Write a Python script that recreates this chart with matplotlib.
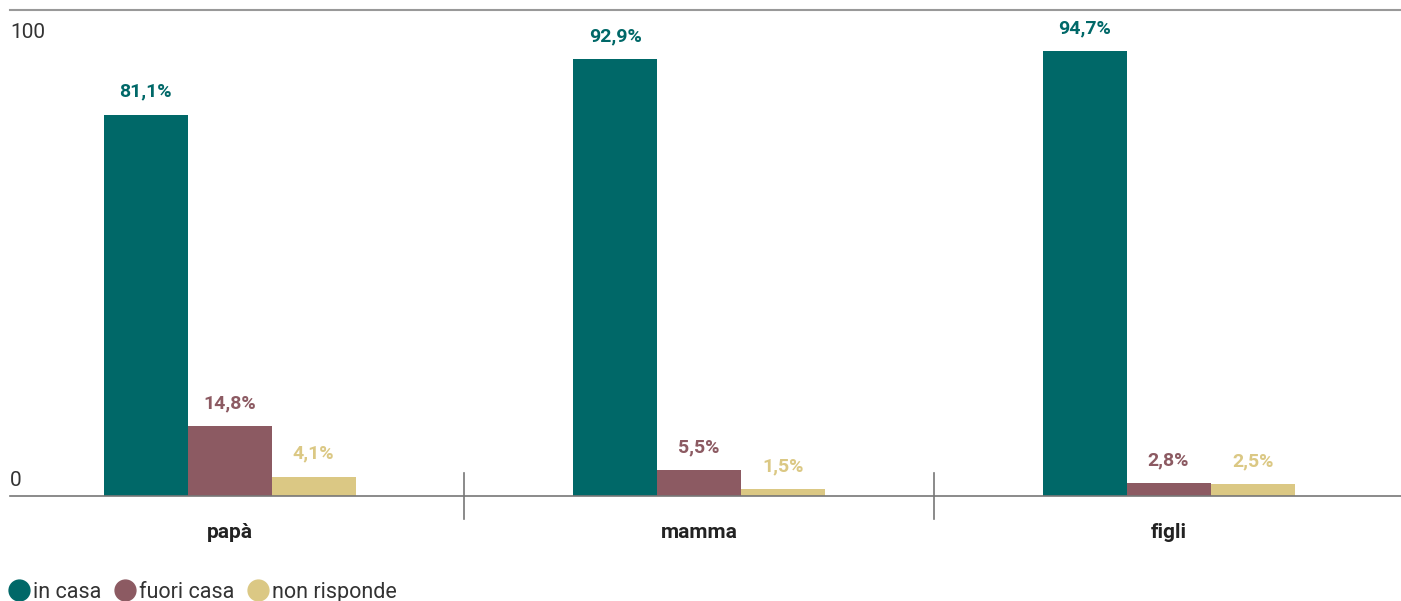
import numpy as np
import matplotlib.pyplot as plt
from matplotlib.lines import Line2D
from matplotlib.transforms import blended_transform_factory

categories = ["papà", "mamma", "figli"]
series = ["in casa", "fuori casa", "non risponde"]
in_casa = [81.1, 92.9, 94.7]
fuori_casa = [14.8, 5.5, 2.8]
non_risponde = [4.1, 1.5, 2.5]
colors = ["#006868", "#8c5a62", "#dbc884"]

plt.rcParams["font.family"] = ["Roboto", "DejaVu Sans"]

fig = plt.figure(figsize=(14.01, 6.01), dpi=100)
ax = fig.add_axes([0.00714, 0.1747, 0.99286, 0.8087])

x = np.arange(len(categories))
w = 0.179
values = [in_casa, fuori_casa, non_risponde]
for i, (vals, col) in enumerate(zip(values, colors)):
    pos = x + (i - 1) * w
    ax.bar(pos, vals, width=w, color=col, zorder=2)
    for p, v in zip(pos, vals):
        ax.annotate(f"{v:.1f}%".replace(".", ","), (p, v), xytext=(0, 10),
                    textcoords="offset points", ha="center", va="bottom",
                    fontsize=14, fontweight="bold", color=col)

ax.set_xlim(-0.468, 2.495)
ax.set_ylim(0, 103.4)
for s in ["left", "right"]:
    ax.spines[s].set_visible(False)
ax.spines["top"].set_color("#999999")
ax.spines["top"].set_linewidth(1.5)
ax.spines["bottom"].set_color("#777777")
ax.spines["bottom"].set_linewidth(1.2)
ax.set_yticks([])
ax.set_xticks([])

# group separators
for sx in [0.5, 1.5]:
    ax.plot([sx, sx], [-4.8, 4.8], color="#777777", lw=1.2, clip_on=False, zorder=3)

# category labels
for xi, c in zip(x, categories):
    ax.text(xi, -5.8, c, ha="center", va="top", fontsize=15, fontweight="bold", color="#222222")

# y labels
tr = blended_transform_factory(ax.transAxes, ax.transData)
ax.text(0.0, 1.2, "0", transform=tr, ha="left", va="bottom", fontsize=15, color="#333333")
ax.text(0.0, 96.5, "100", transform=tr, ha="left", va="bottom", fontsize=15, color="#333333")

handles = [Line2D([], [], marker="o", ls="", markersize=15, color=c) for c in colors]
fig.legend(handles, series, loc="lower left", bbox_to_anchor=(-0.008, -0.035), ncol=3,
           frameon=False, fontsize=15.5, handletextpad=0.15, columnspacing=0.6,
           handlelength=1.0, labelcolor="#333333")

fig.savefig("out.png", dpi=100)
